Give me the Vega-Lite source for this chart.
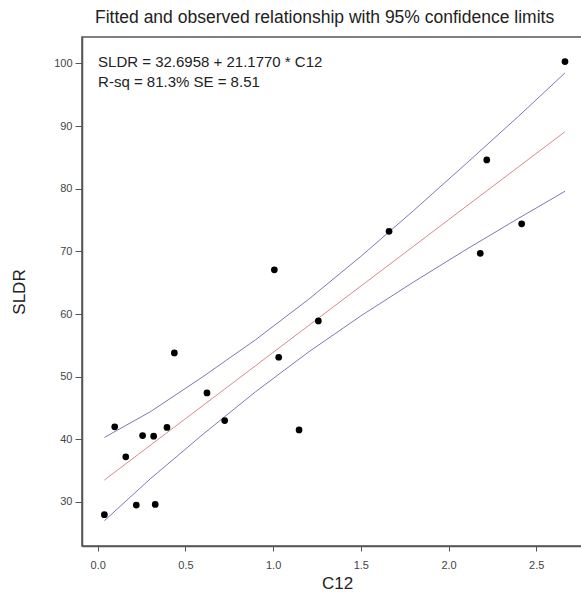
{
  "$schema": "https://vega.github.io/schema/vega-lite/v6.json",
  "autosize": {"type": "none"},
  "padding": {"left": 82, "top": 37, "right": 0, "bottom": 56},
  "width": 510,
  "height": 509,
  "background": "white",
  "config": {
    "font": "Liberation Sans",
    "view": {"stroke": "#555555", "strokeWidth": 1.5},
    "axis": {"grid": false, "domainColor": "#555555", "domainWidth": 1.5, "tickColor": "#555555", "labelColor": "#444444", "labelFontSize": 11, "titleFontSize": 17, "titleFontWeight": "normal", "titleColor": "#222222"}
  },
  "title": {"text": "Fitted and observed relationship with 95% confidence limits", "anchor": "start", "frame": "group", "dx": 13, "offset": 11, "fontSize": 17.5, "fontWeight": "normal", "color": "#222222"},
  "datasets": {
    "obs": [
      {"C12": 0.038, "SLDR": 27.97},
      {"C12": 0.097, "SLDR": 42.0},
      {"C12": 0.16, "SLDR": 37.2},
      {"C12": 0.22, "SLDR": 29.5},
      {"C12": 0.256, "SLDR": 40.6},
      {"C12": 0.319, "SLDR": 40.5},
      {"C12": 0.328, "SLDR": 29.6},
      {"C12": 0.395, "SLDR": 41.9},
      {"C12": 0.437, "SLDR": 53.8},
      {"C12": 0.623, "SLDR": 47.4},
      {"C12": 0.724, "SLDR": 43.0},
      {"C12": 1.007, "SLDR": 67.06},
      {"C12": 1.032, "SLDR": 53.1},
      {"C12": 1.148, "SLDR": 41.5},
      {"C12": 1.258, "SLDR": 58.9},
      {"C12": 1.661, "SLDR": 73.2},
      {"C12": 2.181, "SLDR": 69.7},
      {"C12": 2.218, "SLDR": 84.6},
      {"C12": 2.417, "SLDR": 74.4},
      {"C12": 2.664, "SLDR": 100.3}
    ],
    "fit": [
      {"C12": 0.038, "fit": 33.5, "lower": 27.0, "upper": 40.3},
      {"C12": 0.3, "fit": 39.05, "lower": 33.7, "upper": 44.4},
      {"C12": 0.6, "fit": 45.4, "lower": 40.8, "upper": 50.0},
      {"C12": 0.9, "fit": 51.75, "lower": 47.6, "upper": 55.9},
      {"C12": 1.2, "fit": 58.11, "lower": 53.9, "upper": 62.3},
      {"C12": 1.5, "fit": 64.46, "lower": 59.7, "upper": 69.2},
      {"C12": 1.8, "fit": 70.81, "lower": 65.1, "upper": 76.5},
      {"C12": 2.1, "fit": 77.17, "lower": 70.3, "upper": 84.0},
      {"C12": 2.4, "fit": 83.52, "lower": 75.3, "upper": 91.6},
      {"C12": 2.664, "fit": 89.11, "lower": 79.6, "upper": 98.5}
    ],
    "notes": [
      {"C12": 0.002, "SLDR": 100.16, "label": "SLDR = 32.6958 + 21.1770 * C12"},
      {"C12": 0.002, "SLDR": 97.1, "label": "R-sq = 81.3% SE = 8.51"}
    ]
  },
  "encoding": {
    "x": {"field": "C12", "type": "quantitative", "scale": {"domain": [-0.0895, 2.818], "nice": false, "zero": false}, "axis": {"title": "C12", "values": [0, 0.5, 1, 1.5, 2, 2.5], "format": ".1f", "tickSize": 5, "labelPadding": 8, "titlePadding": 5}}
  },
  "layer": [
    {
      "data": {"name": "fit"},
      "mark": {"type": "line", "color": "#7a7ab8", "strokeWidth": 1},
      "encoding": {"y": {"field": "upper", "type": "quantitative", "scale": {"domain": [22.97, 104.23], "nice": false, "zero": false}, "axis": {"title": "SLDR", "values": [30, 40, 50, 60, 70, 80, 90, 100], "tickSize": 7, "labelPadding": 3, "titlePadding": 25}}}
    },
    {
      "data": {"name": "fit"},
      "mark": {"type": "line", "color": "#7a7ab8", "strokeWidth": 1},
      "encoding": {"y": {"field": "lower", "type": "quantitative"}}
    },
    {
      "data": {"name": "fit"},
      "mark": {"type": "line", "color": "#d88a8a", "strokeWidth": 1},
      "encoding": {"y": {"field": "fit", "type": "quantitative"}}
    },
    {
      "data": {"name": "obs"},
      "mark": {"type": "circle", "color": "black", "opacity": 1, "size": 45},
      "encoding": {"y": {"field": "SLDR", "type": "quantitative"}}
    },
    {
      "data": {"name": "notes"},
      "mark": {"type": "text", "align": "left", "baseline": "middle", "fontSize": 15, "color": "#222222"},
      "encoding": {"y": {"field": "SLDR", "type": "quantitative"}, "text": {"field": "label"}}
    }
  ]
}
